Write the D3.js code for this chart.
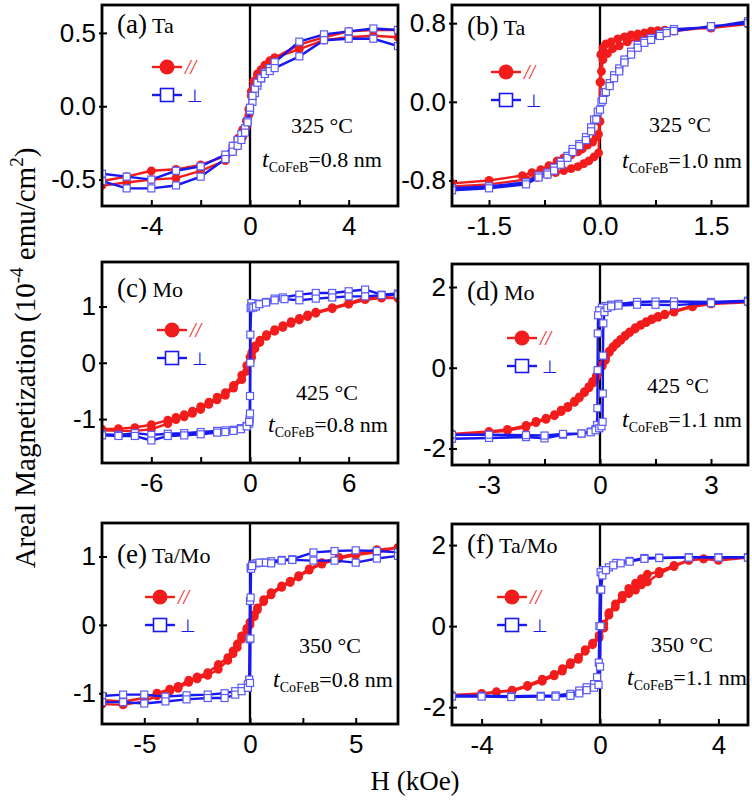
<!DOCTYPE html>
<html>
<head>
<meta charset="utf-8">
<script src="https://cdn.jsdelivr.net/npm/d3@7"></script>
<style>
body{margin:0;background:#fff}
</style>
</head>
<body>
<svg id="chart" width="752" height="800"></svg>
<script>
// hysteresis loops, [H (kOe), M (1e-4 emu/cm2)], descending branch then ascending branch
const aPar=[[6,0.47],[5,0.48],[4,0.47],[3,0.45],[2,0.39],[1,0.33],[0.8,0.31],[0.6,0.28],[0.45,0.25],[0.3,0.22],[0.15,0.17],[0.05,0.10],[-0.05,-0.02],[-0.15,-0.10],[-0.3,-0.16],[-0.5,-0.22],[-0.7,-0.27],[-1,-0.34],[-2,-0.40],[-3,-0.43],[-4,-0.44],[-5,-0.48],[-6,-0.51],
  [-6,-0.54],[-5,-0.52],[-4,-0.50],[-3,-0.49],[-2,-0.44],[-1,-0.37],[-0.7,-0.31],[-0.5,-0.27],[-0.3,-0.21],[-0.15,-0.14],[-0.05,-0.06],[0.05,0.07],[0.15,0.14],[0.3,0.20],[0.45,0.24],[0.6,0.27],[0.8,0.30],[1,0.33],[2,0.42],[3,0.47],[4,0.51],[5,0.52],[6,0.52]]
const aPerp=[[6,0.52],[5,0.53],[4,0.51],[3,0.49],[2,0.44],[1,0.30],[0.8,0.26],[0.6,0.23],[0.45,0.19],[0.3,0.14],[0.2,0.09],[0.1,0.03],[0,-0.03],[-0.1,-0.10],[-0.2,-0.15],[-0.35,-0.19],[-0.5,-0.23],[-0.7,-0.27],[-1,-0.33],[-2,-0.41],[-3,-0.44],[-4,-0.50],[-5,-0.48],[-6,-0.46],
  [-6,-0.51],[-5,-0.56],[-4,-0.56],[-3,-0.54],[-2,-0.48],[-1,-0.36],[-0.7,-0.31],[-0.5,-0.27],[-0.35,-0.23],[-0.2,-0.18],[-0.1,-0.11],[0,-0.01],[0.1,0.07],[0.2,0.12],[0.3,0.16],[0.45,0.19],[0.6,0.22],[0.8,0.24],[1,0.26],[2,0.34],[3,0.45],[4,0.46],[5,0.46],[6,0.41]]

const bPar=[[2,0.79],[1.5,0.75],[1,0.735],[0.875,0.73],[0.78,0.725],[0.69,0.72],[0.6,0.70],[0.51,0.69],[0.42,0.68],[0.33,0.66],[0.24,0.64],[0.15,0.61],[0.08,0.59],[0.04,0.55],[0.01,0.48],[0,0.2],[-0.01,-0.2],[-0.02,-0.33],[-0.05,-0.36],[-0.1,-0.41],[-0.17,-0.44],[-0.24,-0.48],[-0.3,-0.51],[-0.39,-0.54],[-0.49,-0.57],[-0.58,-0.60],[-0.69,-0.65],[-0.8,-0.69],[-0.92,-0.72],[-1.05,-0.75],[-1.5,-0.80],[-2,-0.83],
  [-2,-0.86],[-1.5,-0.84],[-1,-0.79],[-0.85,-0.77],[-0.71,-0.74],[-0.6,-0.72],[-0.49,-0.70],[-0.39,-0.68],[-0.3,-0.66],[-0.22,-0.63],[-0.15,-0.60],[-0.08,-0.56],[-0.02,-0.52],[0,-0.2],[0.01,0.2],[0.02,0.31],[0.04,0.43],[0.1,0.49],[0.17,0.54],[0.26,0.57],[0.37,0.61],[0.51,0.64],[0.69,0.68],[0.875,0.70],[1,0.72],[1.5,0.76],[2,0.80]]
const bPerp=[[2,0.82],[1.5,0.76],[1,0.74],[0.9,0.72],[0.81,0.69],[0.69,0.65],[0.6,0.62],[0.51,0.58],[0.42,0.51],[0.33,0.43],[0.26,0.34],[0.19,0.27],[0.13,0.19],[0.06,0.09],[0.02,0.0],[-0.03,-0.10],[-0.08,-0.18],[-0.12,-0.26],[-0.19,-0.36],[-0.28,-0.43],[-0.37,-0.48],[-0.44,-0.55],[-0.53,-0.61],[-0.62,-0.67],[-0.71,-0.72],[-0.83,-0.75],[-1,-0.82],[-1.5,-0.86],[-2,-0.88],
  [-2,-0.90],[-1.5,-0.88],[-1,-0.84],[-0.83,-0.77],[-0.71,-0.74],[-0.62,-0.70],[-0.53,-0.64],[-0.44,-0.57],[-0.37,-0.51],[-0.28,-0.45],[-0.19,-0.39],[-0.12,-0.30],[-0.05,-0.18],[0,-0.08],[0.04,0.02],[0.08,0.10],[0.13,0.16],[0.19,0.24],[0.26,0.31],[0.33,0.40],[0.42,0.48],[0.51,0.55],[0.6,0.60],[0.69,0.63],[0.81,0.67],[0.9,0.70],[1,0.72],[1.5,0.77],[2,0.80]]

const cPar=[[9,1.15],[8,1.17],[7,1.15],[6,1.06],[5,0.98],[4,0.90],[3.5,0.85],[3,0.79],[2.5,0.73],[2,0.66],[1.5,0.59],[1,0.50],[0.6,0.40],[0.3,0.30],[0.1,0.18],[0,0.10],[-0.2,-0.05],[-0.5,-0.22],[-1,-0.40],[-1.5,-0.53],[-2,-0.61],[-2.5,-0.70],[-3,-0.78],[-3.5,-0.86],[-4,-0.92],[-4.5,-0.97],[-5,-1.02],[-6,-1.10],[-7,-1.15],[-8,-1.17],[-9,-1.18],
  [-9,-1.20],[-8,-1.21],[-7,-1.21],[-6,-1.18],[-5,-1.08],[-4.5,-1.01],[-4,-0.96],[-3.5,-0.90],[-3,-0.83],[-2.5,-0.74],[-2,-0.66],[-1.5,-0.58],[-1,-0.45],[-0.5,-0.30],[-0.2,-0.15],[0,0.02],[0.1,0.10],[0.3,0.25],[0.6,0.36],[1,0.47],[1.5,0.56],[2,0.63],[2.5,0.70],[3,0.76],[3.5,0.82],[4,0.88],[5,0.96],[6,1.04],[7,1.12],[8,1.15],[9,1.15]]
const cPerp=[[9,1.23],[8,1.21],[7,1.30],[6,1.27],[5,1.24],[4,1.24],[3,1.21],[2,1.16],[1.5,1.14],[1,1.08],[0.5,1.05],[0.2,1.05],[0.08,1.06],[0.02,0.5],[0,-0.59],[-0.02,-1.0],[-0.05,-1.08],[-0.2,-1.12],[-0.55,-1.16],[-1,-1.19],[-1.5,-1.20],[-2,-1.21],[-3,-1.23],[-4,-1.25],[-5,-1.26],[-6,-1.28],[-7,-1.25],[-8,-1.28],[-9,-1.27],
  [-9,-1.29],[-8,-1.30],[-7,-1.30],[-6,-1.38],[-5,-1.30],[-4,-1.29],[-3,-1.27],[-2,-1.24],[-1.5,-1.23],[-1,-1.21],[-0.55,-1.18],[-0.2,-1.13],[-0.05,-1.05],[0,-0.9],[0.02,0.0],[0.04,0.97],[0.1,1.0],[0.2,0.98],[0.36,1.0],[0.57,1.04],[0.97,1.07],[1.5,1.11],[2.1,1.13],[3,1.11],[4,1.14],[5,1.16],[6,1.18],[7,1.18],[8,1.20],[9,1.21]]

const dPar=[[4,1.64],[3,1.60],[2.5,1.53],[2,1.41],[1.75,1.33],[1.57,1.27],[1.4,1.21],[1.25,1.14],[1.1,1.07],[0.95,0.99],[0.8,0.89],[0.68,0.80],[0.56,0.70],[0.45,0.61],[0.35,0.52],[0.25,0.41],[0.15,0.24],[0.06,0.08],[-0.02,-0.08],[-0.1,-0.2],[-0.2,-0.34],[-0.3,-0.47],[-0.42,-0.59],[-0.56,-0.72],[-0.69,-0.83],[-0.87,-0.96],[-1.05,-1.05],[-1.23,-1.16],[-1.46,-1.25],[-1.73,-1.33],[-2,-1.43],[-2.5,-1.53],[-3,-1.58],[-4,-1.64],
  [-4,-1.67],[-3,-1.60],[-2.5,-1.56],[-2,-1.47],[-1.73,-1.36],[-1.46,-1.28],[-1.23,-1.19],[-1.05,-1.09],[-0.87,-0.99],[-0.69,-0.86],[-0.56,-0.75],[-0.42,-0.62],[-0.3,-0.50],[-0.2,-0.38],[-0.1,-0.24],[-0.02,-0.12],[0.06,0.04],[0.15,0.19],[0.25,0.38],[0.35,0.50],[0.45,0.59],[0.56,0.68],[0.68,0.78],[0.8,0.87],[0.95,0.96],[1.1,1.05],[1.25,1.12],[1.4,1.19],[1.57,1.25],[1.75,1.31],[2,1.38],[2.5,1.51],[3,1.58],[4,1.62]]
const dPerp=[[4,1.66],[3,1.63],[2,1.64],[1.5,1.64],[1,1.63],[0.5,1.58],[0.3,1.56],[0.15,1.53],[0.05,1.49],[-0.02,1.42],[-0.05,1.3],[-0.06,0.85],[-0.065,-0.06],[-0.07,-1.0],[-0.08,-1.42],[-0.12,-1.52],[-0.25,-1.58],[-0.5,-1.63],[-1,-1.66],[-1.5,-1.75],[-2,-1.72],[-3,-1.74],[-4,-1.76],
  [-4,-1.66],[-3,-1.66],[-2,-1.67],[-1.5,-1.68],[-1,-1.64],[-0.5,-1.63],[-0.25,-1.60],[-0.12,-1.55],[-0.02,-1.50],[0.04,-1.45],[0.07,-1.34],[0.075,-0.64],[0.08,0.3],[0.09,1.1],[0.12,1.38],[0.2,1.48],[0.3,1.52],[0.5,1.54],[1,1.56],[1.5,1.56],[2,1.55],[3,1.60],[4,1.64]]

const ePar=[[7,1.13],[6,1.10],[5,1.04],[4.2,0.99],[3.4,0.91],[2.8,0.82],[2.3,0.72],[1.9,0.64],[1.5,0.57],[1,0.47],[0.65,0.37],[0.35,0.25],[0.2,0.15],[0,0.04],[-0.15,-0.05],[-0.4,-0.16],[-0.6,-0.28],[-0.8,-0.38],[-1.05,-0.48],[-1.5,-0.58],[-2,-0.70],[-2.5,-0.76],[-2.9,-0.81],[-3.4,-0.90],[-3.8,-0.94],[-4.4,-1.00],[-5,-1.07],[-6,-1.12],[-7,-1.10],
  [-7,-1.16],[-6,-1.17],[-5,-1.12],[-4.4,-1.04],[-3.8,-0.97],[-3.4,-0.93],[-2.9,-0.84],[-2.5,-0.79],[-2,-0.74],[-1.5,-0.65],[-1.05,-0.52],[-0.8,-0.42],[-0.6,-0.33],[-0.4,-0.21],[-0.15,-0.08],[0,0.0],[0.2,0.12],[0.35,0.22],[0.65,0.34],[1,0.44],[1.5,0.55],[1.9,0.62],[2.3,0.70],[2.8,0.80],[3.4,0.89],[4.2,0.97],[5,1.02],[6,1.06],[7,1.13]]
const ePerp=[[7,1.06],[6,1.08],[5,1.09],[4,1.08],[3,1.06],[2,0.96],[1.5,0.95],[1,0.93],[0.6,0.91],[0.3,0.90],[0.1,0.88],[0.03,0.84],[0,0.35],[-0.02,-0.21],[-0.04,-0.8],[-0.1,-0.87],[-0.4,-0.92],[-0.7,-0.97],[-1.2,-1.0],[-2,-1.02],[-3,-1.03],[-4,-1.05],[-5,-1.02],[-6,-1.02],[-7,-1.04],
  [-7,-1.13],[-6,-1.13],[-5,-1.15],[-4,-1.12],[-3,-1.09],[-2,-1.07],[-1.2,-1.07],[-0.7,-1.02],[-0.4,-0.97],[-0.1,-0.92],[0,-0.85],[0.02,-0.2],[0.03,0.4],[0.05,0.82],[0.1,0.86],[0.45,0.91],[0.75,0.91],[1,0.90],[1.5,0.94],[2,0.95],[3,0.94],[4,0.94],[5,0.91],[6,0.97],[7,1.01]]

const fPar=[[5,1.70],[4,1.66],[3.5,1.66],[3,1.63],[2.5,1.50],[2,1.35],[1.6,1.28],[1.4,1.17],[1.2,1.06],[0.97,0.93],[0.75,0.76],[0.52,0.55],[0.3,0.33],[0.13,0.05],[-0.03,-0.23],[-0.25,-0.42],[-0.5,-0.58],[-0.73,-0.77],[-1,-0.90],[-1.27,-1.05],[-1.55,-1.19],[-1.95,-1.31],[-2.45,-1.46],[-2.97,-1.58],[-3.5,-1.62],[-4,-1.66],[-5,-1.70],
  [-5,-1.72],[-4,-1.68],[-3.5,-1.63],[-2.97,-1.60],[-2.45,-1.49],[-1.95,-1.36],[-1.55,-1.23],[-1.27,-1.11],[-1,-0.95],[-0.73,-0.82],[-0.5,-0.62],[-0.25,-0.46],[-0.03,-0.29],[0.13,-0.05],[0.3,0.27],[0.52,0.47],[0.75,0.67],[0.97,0.80],[1.2,0.89],[1.4,1.02],[1.6,1.09],[2,1.29],[2.5,1.47],[3,1.62],[3.5,1.66],[4,1.62],[5,1.69]]
const fPerp=[[5,1.70],[4,1.70],[3,1.70],[2,1.69],[1.5,1.68],[1,1.61],[0.55,1.56],[0.3,1.45],[0.1,1.38],[0.02,1.33],[0,0.9],[-0.02,0.0],[-0.04,-0.9],[-0.1,-1.26],[-0.2,-1.43],[-0.45,-1.51],[-0.7,-1.59],[-1,-1.67],[-1.5,-1.71],[-2,-1.72],[-3,-1.73],[-4,-1.72],[-5,-1.72],
  [-5,-1.74],[-4,-1.74],[-3,-1.75],[-2,-1.74],[-1.5,-1.74],[-1,-1.72],[-0.7,-1.66],[-0.45,-1.58],[-0.2,-1.52],[-0.05,-1.45],[0,-1.0],[0.02,0.0],[0.04,0.9],[0.08,1.25],[0.2,1.38],[0.45,1.50],[0.7,1.55],[1,1.59],[1.5,1.66],[2,1.68],[3,1.69],[4,1.69],[5,1.69]]

// tick values (labelled and unlabelled)
const aXTicks=[-4,0,4], aXMinor=[-2,2], aYTicks=[-0.5,0,0.5]
const bXTicks=[-1.5,0,1.5], bXMinor=[-0.75,0.75], bYTicks=[-0.8,0,0.8]
const cXTicks=[-6,0,6], cXMinor=[-3,3], cYTicks=[-1,0,1]
const dXTicks=[-3,0,3], dXMinor=[-1.5,1.5], dYTicks=[-2,0,2]
const eXTicks=[-5,0,5], eXMinor=[-2.5,2.5], eYTicks=[-1,0,1]
const fXTicks=[-4,0,4], fXMinor=[-2,2], fYTicks=[-2,0,2]

const labels=["(a)","(b)","(c)","(d)","(e)","(f)"]
const metals=["Ta","Ta","Mo","Mo","Ta/Mo","Ta/Mo"]
const temps=["325","325","425","425","350","350"]
const thick=["0.8","1.0","0.8","1.1","0.8","1.1"]

const W=296,H=201
const RED="#f21c1c",BLUE="#1818f0"
const serif="'Liberation Serif','Times New Roman',serif"
const sans="'Liberation Sans',Arial,sans-serif"

// panel layout
const panels=[
  {par:aPar,perp:aPerp,xDom:[-6,6],yDom:[-0.68,0.69],xt:aXTicks,xm:aXMinor,yt:aYTicks,dec:1,xdec:0,left:102,top:5,lab:28,lx:50,ly:62,tc:220,ty:128,ts:160,tty:162},
  {par:bPar,perp:bPerp,xDom:[-2,2],yDom:[-1.06,0.985],xt:bXTicks,xm:bXMinor,yt:bYTicks,dec:1,xdec:1,left:452,top:5,lab:30,lx:39,ly:67,tc:228,ty:127,ts:170,tty:163},
  {par:cPar,perp:cPerp,xDom:[-9,9],yDom:[-1.78,1.79],xt:cXTicks,xm:cXMinor,yt:cYTicks,dec:0,xdec:0,left:102,top:262,lab:35,lx:55,ly:68,tc:225,ty:138,ts:166,tty:170},
  {par:dPar,perp:dPerp,xDom:[-4,4],yDom:[-2.41,2.57],xt:dXTicks,xm:dXMinor,yt:dYTicks,dec:0,xdec:0,left:452,top:264,lab:36,lx:55,ly:74,tc:226,ty:129,ts:170,tty:163},
  {par:ePar,perp:ePerp,xDom:[-7,7],yDom:[-1.45,1.49],xt:eXTicks,xm:eXMinor,yt:eYTicks,dec:0,xdec:0,left:102,top:523,lab:40,lx:43,ly:74,tc:228,ty:130,ts:171,tty:164},
  {par:fPar,perp:fPerp,xDom:[-5,5],yDom:[-2.44,2.52],xt:fXTicks,xm:fXMinor,yt:fYTicks,dec:0,xdec:0,left:452,top:524,lab:29,lx:45,ly:73,tc:230,ty:128,ts:175,tty:161}
]

const svg=d3.select("#chart")
svg.append("rect").attr("width",752).attr("height",800).attr("fill","#fff")

panels.forEach((p,i)=>{
  const g=svg.append("g").attr("transform",`translate(${p.left},${p.top})`)
  const x=d3.scaleLinear().domain(p.xDom).range([0,W])
  const y=d3.scaleLinear().domain(p.yDom).range([H,0])

  g.append("clipPath").attr("id","clip"+i).append("rect").attr("width",W).attr("height",H)

  //axes with inward ticks
  const xa=g.append("g").attr("transform",`translate(0,${H})`)
    .call(d3.axisBottom(x).tickValues(p.xt).tickSize(-6).tickPadding(11).tickFormat(d=>d.toFixed(p.xdec)))
  g.append("g").attr("transform",`translate(0,${H})`)
    .call(d3.axisBottom(x).tickValues(p.xm).tickSize(-6).tickFormat(""))
    .call(a=>a.select(".domain").remove())
  const ya=g.append("g")
    .call(d3.axisLeft(y).tickValues(p.yt).tickSize(-5).tickPadding(6).tickFormat(d=>d.toFixed(p.dec)))
  ya.selectAll(".tick line").attr("x1",-3)
  ;[xa,ya].forEach(a=>{
    a.select(".domain").remove()
    a.selectAll("text").attr("font-family",sans).attr("font-size",26).attr("fill","#000")
  })
  g.selectAll(".tick line").attr("stroke","#000").attr("stroke-width",2)

  const plot=g.append("g").attr("clip-path",`url(#clip${i})`)
  const line=d3.line().x(d=>x(d[0])).y(d=>y(d[1]))

  //zero field line
  plot.append("line").attr("x1",x(0)).attr("x2",x(0)).attr("y1",0).attr("y2",H)
    .attr("stroke","#000").attr("stroke-width",2.3)

  plot.append("path").datum(p.par).attr("d",line).attr("fill","none").attr("stroke",RED).attr("stroke-width",2.4)
  plot.selectAll(".dot").data(p.par).enter().append("circle").attr("class","dot")
    .attr("cx",d=>x(d[0])).attr("cy",d=>y(d[1])).attr("r",4.4).attr("fill",RED)

  plot.append("path").datum(p.perp).attr("d",line).attr("fill","none").attr("stroke",BLUE).attr("stroke-width",2.4)
  plot.selectAll(".sq").data(p.perp).enter().append("rect").attr("class","sq")
    .attr("x",d=>x(d[0])-3.5).attr("y",d=>y(d[1])-3.5).attr("width",7).attr("height",7)
    .attr("fill","#fff").attr("stroke","#5a5af5").attr("stroke-width",1.2)

  //frame
  g.append("rect").attr("width",W).attr("height",H).attr("fill","none").attr("stroke","#000").attr("stroke-width",2.8)

  //panel label
  const lt=g.append("text").attr("x",15).attr("y",p.lab).attr("font-family",serif).attr("fill","#000")
  lt.append("tspan").attr("font-size",27).text(labels[i])
  lt.append("tspan").attr("font-size",22).text(" "+metals[i])

  //legend
  const lg=g.append("g").attr("transform",`translate(${p.lx},${p.ly})`)
  lg.append("line").attr("x1",0).attr("x2",30).attr("stroke",RED).attr("stroke-width",2.4)
  lg.append("circle").attr("cx",15).attr("r",7.5).attr("fill",RED)
  lg.append("text").attr("x",33).attr("y",7).attr("font-family",serif).attr("font-style","italic")
    .attr("font-size",20).attr("fill",RED).text("//")
  lg.append("line").attr("x1",0).attr("x2",30).attr("y1",28).attr("y2",28).attr("stroke",BLUE).attr("stroke-width",2.4)
  lg.append("rect").attr("x",8.5).attr("y",21.5).attr("width",13).attr("height",13).attr("fill","#fff").attr("stroke",BLUE).attr("stroke-width",1.6)
  lg.append("text").attr("x",35).attr("y",35).attr("font-family","'DejaVu Sans',sans-serif")
    .attr("font-size",18).attr("fill",BLUE).text("⊥")

  //annealing temperature and thickness
  g.append("text").attr("x",p.tc).attr("y",p.ty).attr("text-anchor","middle").attr("font-family",serif)
    .attr("font-size",22).text(temps[i]+" °C")
  const tt=g.append("text").attr("x",p.ts).attr("y",p.tty).attr("font-family",serif).attr("font-size",22)
  tt.append("tspan").attr("font-style","italic").attr("font-size",24).text("t")
  tt.append("tspan").attr("font-size",14).attr("dy",5).text("CoFeB")
  tt.append("tspan").attr("dy",-5).text("="+thick[i]+" nm")
})

//axis titles
const yt=svg.append("text").attr("transform","translate(35,358) rotate(-90)").attr("text-anchor","middle")
  .attr("font-family",serif).attr("font-size",29)
yt.append("tspan").text("Areal Magnetization (10")
yt.append("tspan").attr("font-size",19).attr("dy",-12).text("-4")
yt.append("tspan").attr("dy",12).text(" emu/cm")
yt.append("tspan").attr("font-size",19).attr("dy",-12).text("2")
yt.append("tspan").attr("dy",12).text(")")

svg.append("text").attr("x",415).attr("y",790).attr("text-anchor","middle").attr("font-family",serif)
  .attr("font-size",27).text("H (kOe)")
</script>
</body>
</html>
